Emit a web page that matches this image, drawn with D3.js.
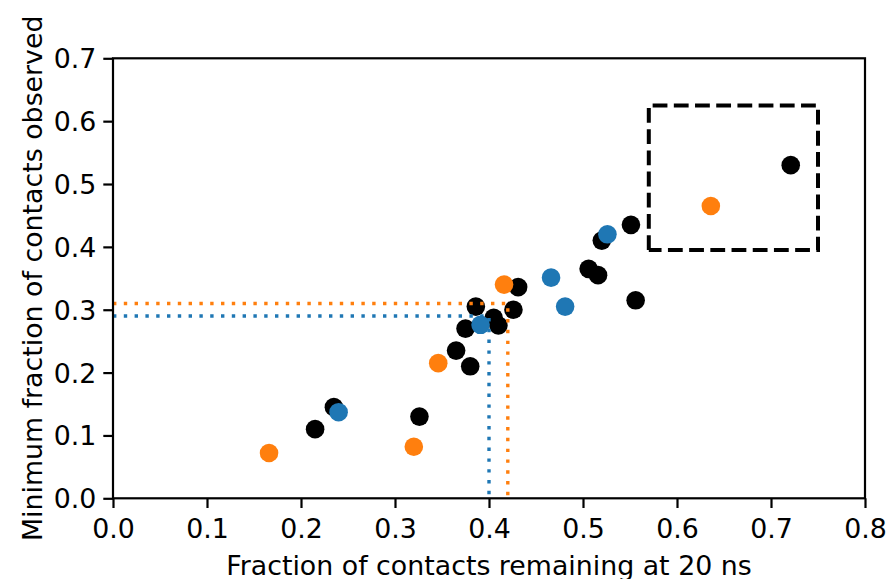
<!DOCTYPE html>
<html>
<head>
<meta charset="utf-8">
<script src="https://cdn.jsdelivr.net/npm/d3@7/dist/d3.min.js"></script>
<style>
  html, body { margin: 0; padding: 0; background: #fff; }
  svg { display: block; }
  text { font-family: "DejaVu Sans", sans-serif; fill: #000; }
</style>
</head>
<body>
<svg id="chart" width="889" height="579"></svg>
<script>
// ---- data ----
const blackX = [0.215, 0.235, 0.326, 0.365, 0.375, 0.380, 0.386, 0.405, 0.410, 0.426, 0.431, 0.506, 0.516, 0.520, 0.551, 0.556, 0.721];
const blackY = [0.110, 0.145, 0.130, 0.235, 0.270, 0.210, 0.305, 0.287, 0.275, 0.300, 0.336, 0.365, 0.355, 0.410, 0.435, 0.315, 0.530];
const orangeX = [0.166, 0.320, 0.346, 0.416, 0.636];
const orangeY = [0.072, 0.082, 0.215, 0.340, 0.465];
const blueX = [0.240, 0.391, 0.466, 0.481, 0.526];
const blueY = [0.137, 0.276, 0.351, 0.305, 0.420];
const blueThreshold = [0.40, 0.29];
const orangeThreshold = [0.42, 0.31];
const boxX = [0.57, 0.75];
const boxY = [0.395, 0.625];
const xTicks = [0.0, 0.1, 0.2, 0.3, 0.4, 0.5, 0.6, 0.7, 0.8];
const yTicks = [0.0, 0.1, 0.2, 0.3, 0.4, 0.5, 0.6, 0.7];
const xLabel = "Fraction of contacts remaining at 20 ns";
const yLabel = "Minimum fraction of contacts observed";

// ---- layout ----
const svg = d3.select("#chart");
const mLeft = 113, mRight = 865, mTop = 58.3, mBottom = 498.3;
const x = d3.scaleLinear().domain([0, 0.8]).range([mLeft, mRight]);
const y = d3.scaleLinear().domain([0, 0.7]).range([mBottom, mTop]);
const fontSize = 26.8;
const C = { black: "#000000", orange: "#ff7f0e", blue: "#1f77b4" };
const R = 9.3;

// points
function dots(xs, ys, color) {
  svg.append("g").selectAll("circle").data(xs.map((d, i) => [d, ys[i]]))
    .enter().append("circle")
    .attr("cx", d => x(d[0])).attr("cy", d => y(d[1]))
    .attr("r", R).attr("fill", color);
}
dots(blackX, blackY, C.black);
dots(orangeX, orangeY, C.orange);
dots(blueX, blueY, C.blue);

// dotted threshold lines
const line = d3.line().x(d => x(d[0])).y(d => y(d[1]));
function thresh(t, color) {
  svg.append("path")
    .attr("d", line([[0, t[1]], [t[0], t[1]], [t[0], 0]]))
    .attr("fill", "none").attr("stroke", color)
    .attr("stroke-width", 3.4).attr("stroke-dasharray", "3.4 7.4");
}
thresh(blueThreshold, C.blue);
thresh(orangeThreshold, C.orange);

// dashed box
svg.append("path")
  .attr("d", line([[boxX[0], boxY[0]], [boxX[0], boxY[1]], [boxX[1], boxY[1]], [boxX[1], boxY[0]], [boxX[0], boxY[0]]]))
  .attr("fill", "none").attr("stroke", "#000")
  .attr("stroke-width", 4).attr("stroke-dasharray", "14.8 6.4")
  .attr("stroke-linejoin", "miter");

// axes
const xAxis = d3.axisBottom(x).tickValues(xTicks).tickFormat(d3.format(".1f")).tickSize(9.7).tickPadding(5);
const yAxis = d3.axisLeft(y).tickValues(yTicks).tickFormat(d3.format(".1f")).tickSize(9.7).tickPadding(7);
const gx = svg.append("g").attr("transform", `translate(0,${mBottom})`).call(xAxis);
const gy = svg.append("g").attr("transform", `translate(${mLeft},0)`).call(yAxis);
[gx, gy].forEach(g => {
  g.select(".domain").remove();
  g.selectAll(".tick line").attr("stroke", "#000").attr("stroke-width", 2.2);
  g.selectAll(".tick text").attr("font-size", fontSize).attr("font-family", "DejaVu Sans").attr("fill", "#000");
});
gx.selectAll(".tick text").attr("dy", null).attr("y", 40);
gy.selectAll(".tick text").attr("dy", null).attr("dominant-baseline", "central");

// frame
svg.append("rect").attr("x", mLeft).attr("y", mTop)
  .attr("width", mRight - mLeft).attr("height", mBottom - mTop)
  .attr("fill", "none").attr("stroke", "#000").attr("stroke-width", 2.2);

// axis labels
svg.append("text").attr("x", (mLeft + mRight) / 2).attr("y", 574.5)
  .attr("text-anchor", "middle").attr("font-size", fontSize).text(xLabel);
svg.append("text")
  .attr("transform", `translate(41.5,${(mTop + mBottom) / 2}) rotate(-90)`)
  .attr("text-anchor", "middle").attr("font-size", fontSize).text(yLabel);
</script>
</body>
</html>
